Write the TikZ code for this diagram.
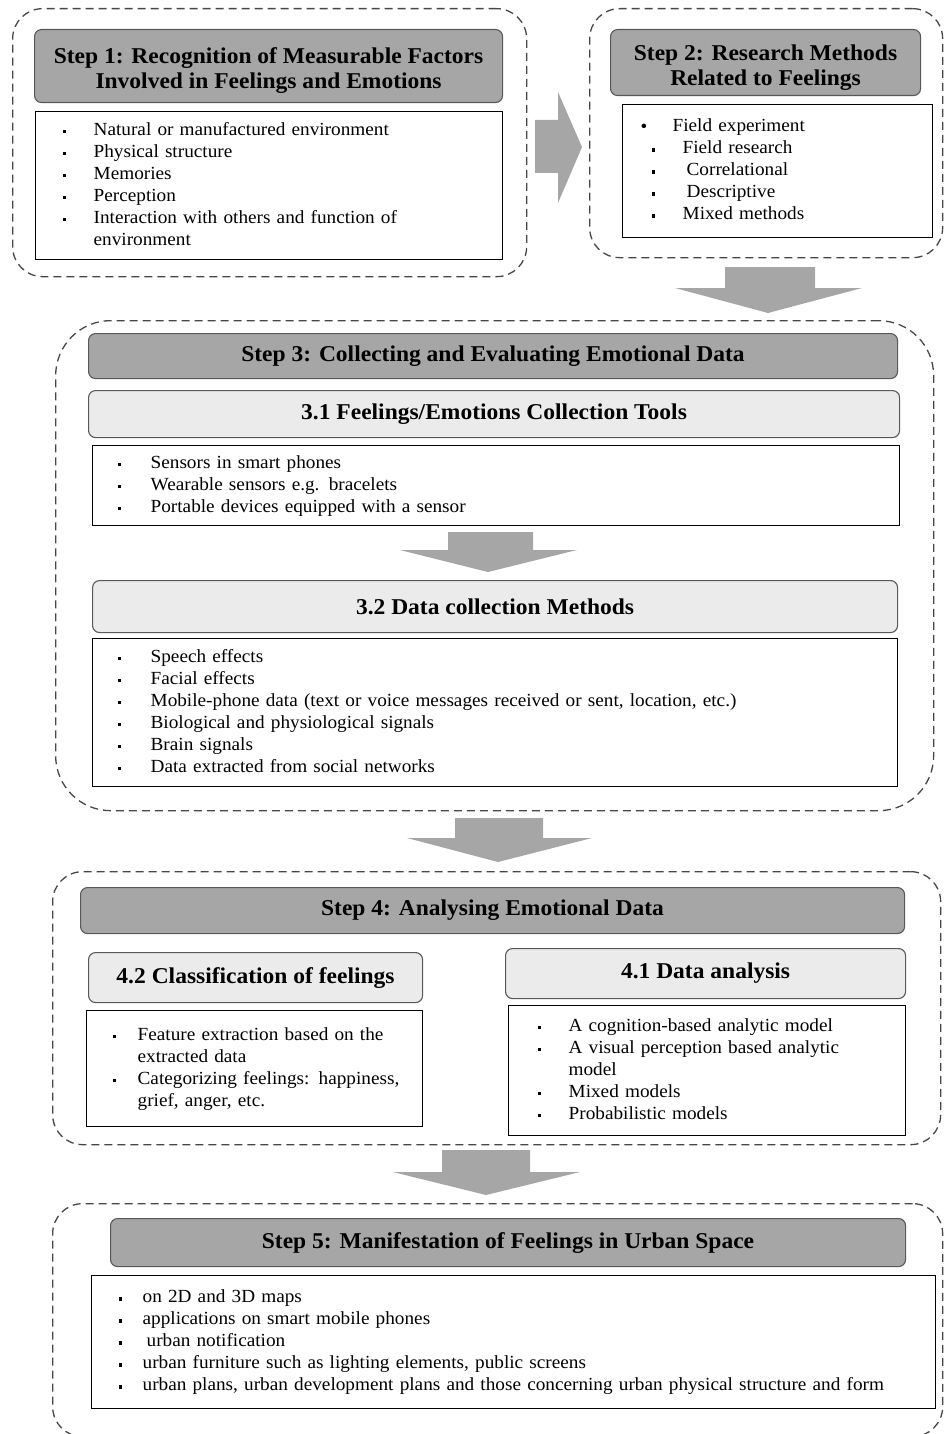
\documentclass[tikz,border=0pt]{standalone}
\usepackage{fontspec}
\setmainfont{Liberation Serif}[FakeStretch=1.04]
\usepackage{array}
\usepackage{tikz}
\usetikzlibrary{positioning, calc}

\newcommand{\headfont}{\fontsize{22.6}{25}\selectfont\bfseries}
\newcommand{\bodyfont}{\fontsize{18.5}{22}\selectfont}
\newcommand{\itemdot}{\raisebox{0.22ex}{\rule{3.4pt}{3.4pt}}}
\newcommand{\headstrut}{\rule{0pt}{25pt}}
\newenvironment{dotlist}[2]{\begin{tabular}{@{\hspace{#1}}p{#2}@{}l@{}}}{\end{tabular}}

\begin{document}
\begin{tikzpicture}[x=1pt, y=-1pt,
		stepframe/.style={draw=black!72, dash pattern=on 8pt off 5pt, line width=1.3pt, rounded corners=30pt, anchor=north west, inner sep=0pt},
		darkhead/.style={draw=black!65, fill=black!35, line width=1.1pt, rounded corners=7pt, anchor=north west, align=center, font=\headfont, inner sep=0pt},
		lighthead/.style={darkhead, fill=black!8},
		listbox/.style={draw=black, line width=1.3pt, anchor=north west, inner sep=0pt, align=left, font=\bodyfont},
		blockarrow/.style={fill=black!35, draw=none}]
			\useasboundingbox (0,0) rectangle (944,1434);
			
			%% Step 1
			\node[stepframe, minimum width=514pt, minimum height=268pt] (s1) at (12,8) {};
			\node[darkhead, minimum width=468pt, minimum height=73pt] (s1head) at (34,29) {\headstrut Step 1: Recognition of Measurable Factors\\Involved in Feelings and Emotions};
			\node[listbox, text width=467pt, minimum height=148pt] (s1list) at (35,111) {\begin{dotlist}{27pt}{31pt}
				\itemdot & Natural or manufactured environment\\
				\itemdot & Physical structure\\
				\itemdot & Memories\\
				\itemdot & Perception\\
				\itemdot & Interaction with others and function of\\
				& environment
			\end{dotlist}};
			
			%% Step 2
			\node[stepframe, minimum width=353pt, minimum height=249pt] (s2) at (589,8) {};
			\node[darkhead, minimum width=310pt, minimum height=66pt] (s2head) at (610,29) {\headstrut Step 2: Research Methods\\Related to Feelings};
			\node[listbox, text width=310pt, minimum height=133pt] (s2list) at (622,104) {\begin{dotlist}{18pt}{32pt}
				\raisebox{-0.5pt}{\textbullet} & Field experiment\\
				\hspace{11pt}\itemdot & \hspace{10pt}Field research\\
				\hspace{11pt}\itemdot & \hspace{14pt}Correlational\\
				\hspace{11pt}\itemdot & \hspace{14pt}Descriptive\\
				\hspace{11pt}\itemdot & \hspace{10pt}Mixed methods
			\end{dotlist}};
			
			\coordinate (a12) at (535,147);
			\fill[blockarrow] (a12) ++(0,-27) -- ++(23,0) -- ++(0,-28) -- ++(24,55) -- ++(-24,56) -- ++(0,-30) -- ++(-23,0) -- cycle;
			\coordinate (a23) at (768,267);
			\fill[blockarrow] (a23) ++(-43,0) -- ++(90,0) -- ++(0,21) -- ++(47,0) -- ++(-94,25) -- ++(-93,-25) -- ++(50,0) -- cycle;
			
			%% Step 3
			\node[stepframe, rounded corners=55pt, minimum width=878pt, minimum height=490pt] (s3) at (55,320) {};
			\node[darkhead, minimum width=809pt, minimum height=45pt] (s3head) at (88,333) {Step 3: Collecting and Evaluating Emotional Data};
			\node[lighthead, minimum width=811pt, minimum height=47pt] (s31head) at (88,390) {3.1 Feelings/Emotions Collection Tools};
			\node[listbox, text width=807pt, minimum height=80pt] (s31list) at (92,445) {\begin{dotlist}{25pt}{33pt}
				\itemdot & Sensors in smart phones\\
				\itemdot & Wearable sensors e.g. bracelets\\
				\itemdot & Portable devices equipped with a sensor
			\end{dotlist}};
			\coordinate (a3132) at (488,532);
			\fill[blockarrow] (a3132) ++(-40,0) -- ++(85,0) -- ++(0,18) -- ++(44,0) -- ++(-89,22) -- ++(-88,-22) -- ++(48,0) -- cycle;
			\node[lighthead, minimum width=805pt, minimum height=52pt] (s32head) at (92,580) {3.2 Data collection Methods};
			\node[listbox, text width=805pt, minimum height=148pt] (s32list) at (92,638) {\begin{dotlist}{25pt}{33pt}
				\itemdot & Speech effects\\
				\itemdot & Facial effects\\
				\itemdot & Mobile-phone data (text or voice messages received or sent, location, etc.)\\
				\itemdot & Biological and physiological signals\\
				\itemdot & Brain signals\\
				\itemdot & Data extracted from social networks
			\end{dotlist}};
			
			\coordinate (a34) at (498,818);
			\fill[blockarrow] (a34) ++(-43,0) -- ++(88,0) -- ++(0,20) -- ++(49,0) -- ++(-94,24) -- ++(-91,-24) -- ++(48,0) -- cycle;
			
			%% Step 4
			\node[stepframe, minimum width=888pt, minimum height=273pt] (s4) at (52,871) {};
			\node[darkhead, minimum width=824pt, minimum height=46pt] (s4head) at (80,887) {Step 4: Analysing Emotional Data};
			\node[lighthead, minimum width=334pt, minimum height=50pt] (s42head) at (88,952) {4.2 Classification of feelings};
			\node[lighthead, minimum width=400pt, minimum height=50pt] (s41head) at (505,948) {4.1 Data analysis};
			\node[listbox, text width=336pt, minimum height=116pt] (s42list) at (86,1010) {\begin{dotlist}{26pt}{25pt}
				\itemdot & Feature extraction based on the\\
				& extracted data\\
				\itemdot & Categorizing feelings: happiness,\\
				& grief, anger, etc.
			\end{dotlist}};
			\node[listbox, text width=397pt, minimum height=130pt] (s41list) at (508,1005) {\begin{dotlist}{29pt}{31pt}
				\itemdot & A cognition-based analytic model\\
				\itemdot & A visual perception based analytic\\
				& model\\
				\itemdot & Mixed models\\
				\itemdot & Probabilistic models
			\end{dotlist}};
			
			\coordinate (a45) at (486,1150);
			\fill[blockarrow] (a45) ++(-44,0) -- ++(88,0) -- ++(0,22) -- ++(50,0) -- ++(-94,23) -- ++(-93,-23) -- ++(49,0) -- cycle;
			
			%% Step 5
			\node[stepframe, minimum width=890pt, minimum height=233pt] (s5) at (52,1203) {};
			\node[darkhead, minimum width=795pt, minimum height=48pt] (s5head) at (110,1218) {Step 5: Manifestation of Feelings in Urban Space};
			\node[listbox, text width=844pt, minimum height=133pt] (s5list) at (91,1275) {\begin{dotlist}{27pt}{24pt}
				\itemdot & on 2D and 3D maps\\
				\itemdot & applications on smart mobile phones\\
				\itemdot & \hspace{4pt}urban notification\\
				\itemdot & urban furniture such as lighting elements, public screens\\
				\itemdot & urban plans, urban development plans and those concerning urban physical structure and form
			\end{dotlist}};
\end{tikzpicture}
\end{document}
